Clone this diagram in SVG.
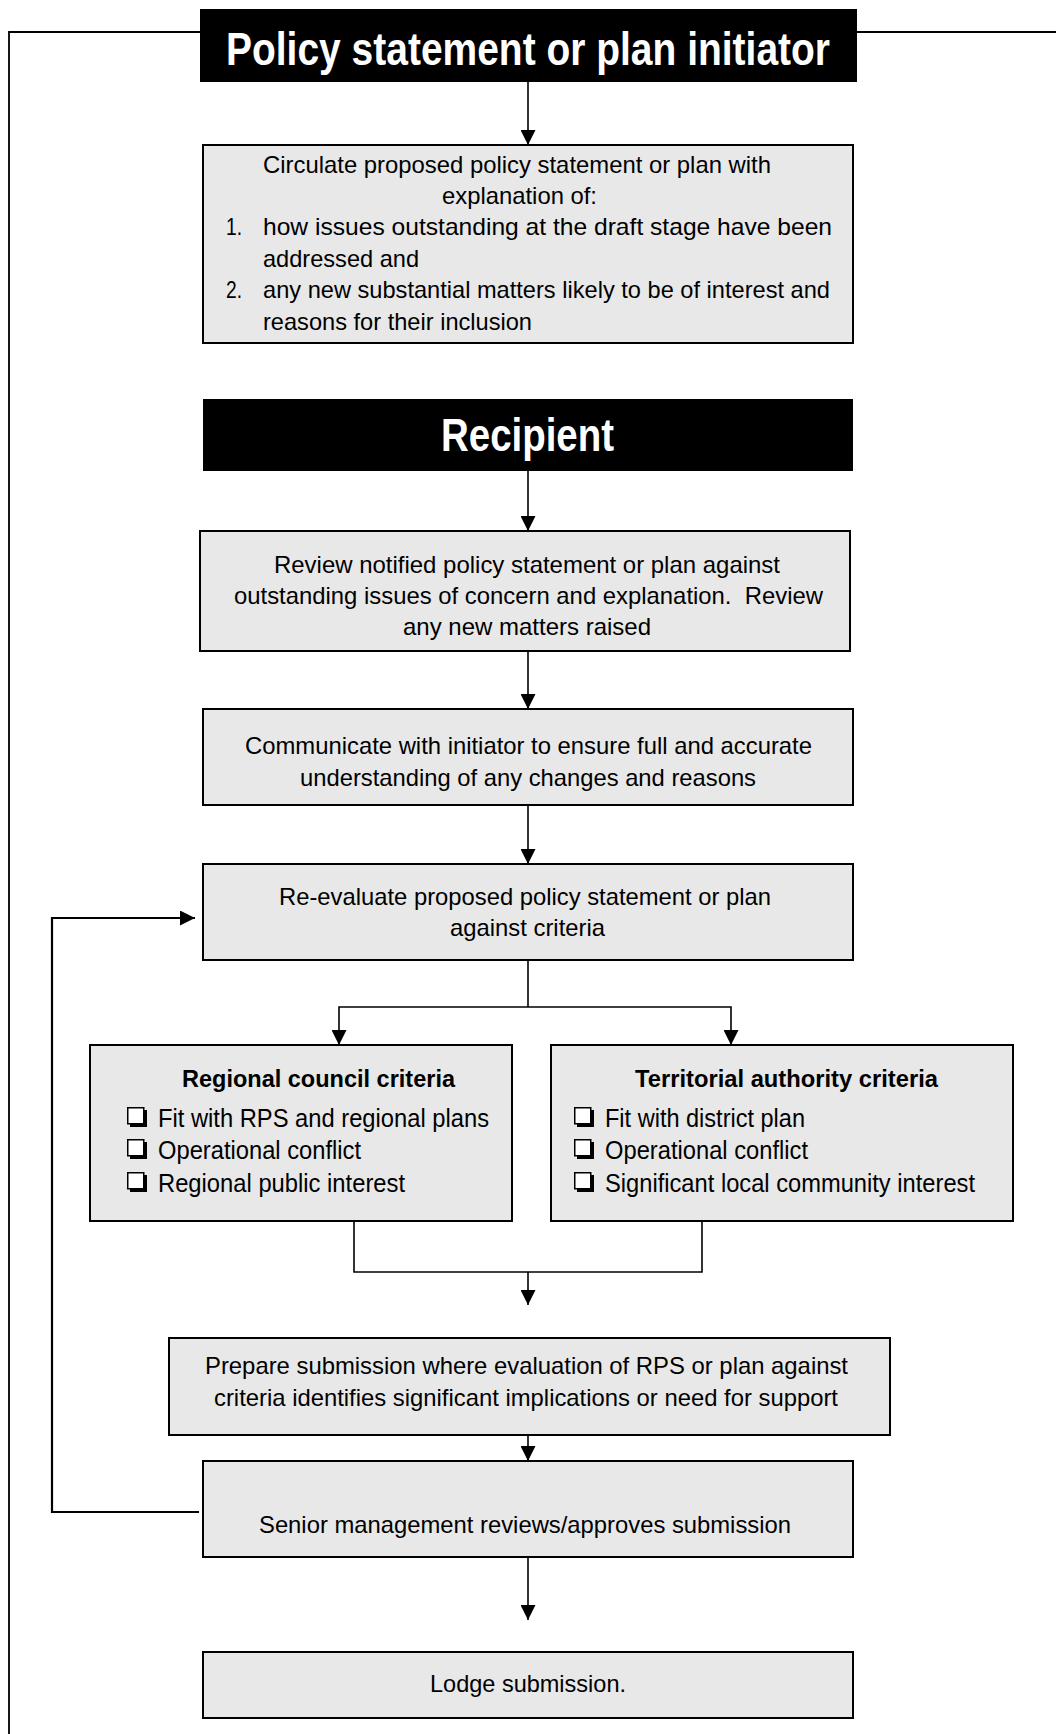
<svg xmlns="http://www.w3.org/2000/svg" width="1056" height="1734" viewBox="0 0 1056 1734">
<style>
.box{fill:#e8e8e8;stroke:#000;stroke-width:2}
.hdr{fill:#000}
.t{font-family:"Liberation Sans",Arial,sans-serif;font-size:24px;fill:#000}
.ti{font-family:"Liberation Sans",Arial,sans-serif;font-size:25.5px;fill:#000}
.tb{font-family:"Liberation Sans",Arial,sans-serif;font-size:24.5px;font-weight:bold;fill:#000}
.th{font-family:"Liberation Sans",Arial,sans-serif;font-size:46px;font-weight:bold;fill:#fff}
.c{fill:none;stroke:#000;stroke-width:1.6}
.ca{fill:none;stroke:#000;stroke-width:1.6;marker-end:url(#ah)}
.fb{fill:none;stroke:#000;stroke-width:2.2}
.fr{fill:none;stroke:#000;stroke-width:1.8}
</style>
<defs>
<marker id="ah" markerUnits="userSpaceOnUse" markerWidth="15" markerHeight="15" refX="15" refY="7.5" orient="auto">
<path d="M0,0 L15,7.5 L0,15 z" fill="#000"/>
</marker>
<g id="chk">
<rect x="0.75" y="0.75" width="16" height="16" fill="#fff" stroke="#000" stroke-width="1.5"/>
<path d="M3,18.5 H18.5 V3" fill="none" stroke="#000" stroke-width="3"/>
</g>
</defs>
<rect width="1056" height="1734" fill="#fff"/>

<g id="connectors">
<path class="fr" d="M200,32 H9 V1734"/>
<path class="fr" d="M857,32 H1056"/>
<path class="ca" d="M528,82 V145"/>
<path class="ca" d="M528,471 V531"/>
<path class="ca" d="M528,651 V709"/>
<path class="ca" d="M528,805 V864"/>
<path class="c" d="M528,960 V1007"/>
<path class="ca" d="M528,1007 H339 V1045"/>
<path class="ca" d="M528,1007 H731 V1045"/>
<path class="c" d="M354,1221 V1272 H702 V1221"/>
<path class="ca" d="M528,1272 V1305"/>
<path class="ca" d="M528,1435 V1461"/>
<path class="ca" d="M528,1557 V1620"/>
<path class="fb" d="M199,1512 H52 V918 H195" marker-end="url(#ah)"/>
</g>

<g id="initiator">
<rect class="hdr" x="200" y="9" width="657" height="73"/>
<text class="th" x="226" y="65" textLength="604" lengthAdjust="spacingAndGlyphs">Policy statement or plan initiator</text>
</g>

<g id="circulate">
<rect class="box" x="203" y="145" width="650" height="198"/>
<text class="t" x="263" y="173" textLength="508" lengthAdjust="spacingAndGlyphs">Circulate proposed policy statement or plan with</text>
<text class="t" x="442" y="204" textLength="155" lengthAdjust="spacingAndGlyphs">explanation of:</text>
<text class="t" x="226" y="235" textLength="16" lengthAdjust="spacingAndGlyphs">1.</text>
<text class="t" x="263" y="235" textLength="569" lengthAdjust="spacingAndGlyphs">how issues outstanding at the draft stage have been</text>
<text class="t" x="263" y="267" textLength="156" lengthAdjust="spacingAndGlyphs">addressed and</text>
<text class="t" x="226" y="298" textLength="16" lengthAdjust="spacingAndGlyphs">2.</text>
<text class="t" x="263" y="298" textLength="567" lengthAdjust="spacingAndGlyphs">any new substantial matters likely to be of interest and</text>
<text class="t" x="263" y="330" textLength="269" lengthAdjust="spacingAndGlyphs">reasons for their inclusion</text>
</g>

<g id="recipient">
<rect class="hdr" x="203" y="399" width="650" height="72"/>
<text class="th" x="441" y="451" textLength="173" lengthAdjust="spacingAndGlyphs">Recipient</text>
</g>

<g id="review">
<rect class="box" x="200" y="531" width="650" height="120"/>
<text class="t" x="274" y="573" textLength="506" lengthAdjust="spacingAndGlyphs">Review notified policy statement or plan against</text>
<text class="t" x="234" y="604" textLength="589" lengthAdjust="spacingAndGlyphs">outstanding issues of concern and explanation.&#160; Review</text>
<text class="t" x="403" y="635" textLength="248" lengthAdjust="spacingAndGlyphs">any new matters raised</text>
</g>

<g id="communicate">
<rect class="box" x="203" y="709" width="650" height="96"/>
<text class="t" x="245" y="754" textLength="567" lengthAdjust="spacingAndGlyphs">Communicate with initiator to ensure full and accurate</text>
<text class="t" x="300" y="786" textLength="456" lengthAdjust="spacingAndGlyphs">understanding of any changes and reasons</text>
</g>

<g id="reevaluate">
<rect class="box" x="203" y="864" width="650" height="96"/>
<text class="t" x="279" y="905" textLength="492" lengthAdjust="spacingAndGlyphs">Re-evaluate proposed policy statement or plan</text>
<text class="t" x="450" y="936" textLength="155" lengthAdjust="spacingAndGlyphs">against criteria</text>
</g>

<g id="regional">
<rect class="box" x="90" y="1045" width="422" height="176"/>
<text class="tb" x="182" y="1087" textLength="273" lengthAdjust="spacingAndGlyphs">Regional council criteria</text>
<use href="#chk" x="127" y="1107"/>
<text class="ti" x="158" y="1127" textLength="331" lengthAdjust="spacingAndGlyphs">Fit with RPS and regional plans</text>
<use href="#chk" x="127" y="1139"/>
<text class="ti" x="158" y="1159" textLength="203" lengthAdjust="spacingAndGlyphs">Operational conflict</text>
<use href="#chk" x="127" y="1172"/>
<text class="ti" x="158" y="1192" textLength="247" lengthAdjust="spacingAndGlyphs">Regional public interest</text>
</g>

<g id="territorial">
<rect class="box" x="551" y="1045" width="462" height="176"/>
<text class="tb" x="635" y="1087" textLength="303" lengthAdjust="spacingAndGlyphs">Territorial authority criteria</text>
<use href="#chk" x="574" y="1107"/>
<text class="ti" x="605" y="1127" textLength="200" lengthAdjust="spacingAndGlyphs">Fit with district plan</text>
<use href="#chk" x="574" y="1139"/>
<text class="ti" x="605" y="1159" textLength="203" lengthAdjust="spacingAndGlyphs">Operational conflict</text>
<use href="#chk" x="574" y="1172"/>
<text class="ti" x="605" y="1192" textLength="370" lengthAdjust="spacingAndGlyphs">Significant local community interest</text>
</g>

<g id="prepare">
<rect class="box" x="169" y="1338" width="721" height="97"/>
<text class="t" x="205" y="1374" textLength="643" lengthAdjust="spacingAndGlyphs">Prepare submission where evaluation of RPS or plan against</text>
<text class="t" x="214" y="1406" textLength="624" lengthAdjust="spacingAndGlyphs">criteria identifies significant implications or need for support</text>
</g>

<g id="senior">
<rect class="box" x="203" y="1461" width="650" height="96"/>
<text class="t" x="259" y="1533" textLength="532" lengthAdjust="spacingAndGlyphs">Senior management reviews/approves submission</text>
</g>

<g id="lodge">
<rect class="box" x="203" y="1652" width="650" height="66"/>
<text class="t" x="430" y="1692" textLength="196" lengthAdjust="spacingAndGlyphs">Lodge submission.</text>
</g>
</svg>
